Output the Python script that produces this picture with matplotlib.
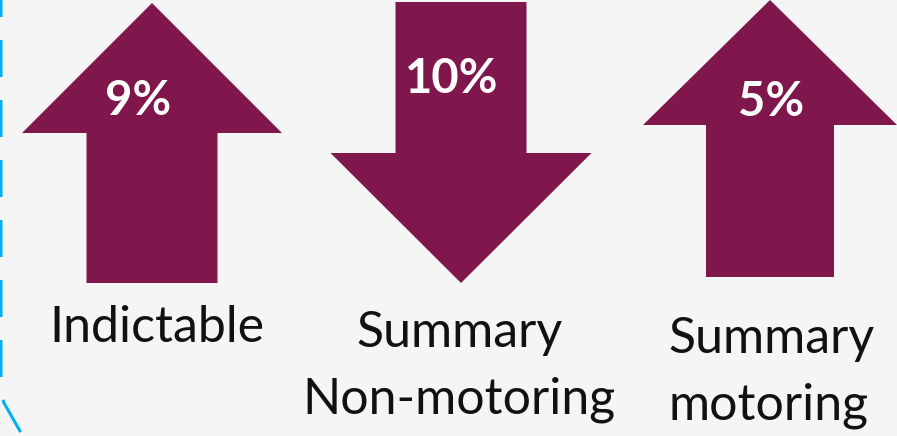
import matplotlib
matplotlib.use("Agg")
import matplotlib.pyplot as plt
from matplotlib.patches import Polygon

# ---- data ----
categories = ["Indictable", "Summary\nNon-motoring", "Summary\nmotoring"]
changes = [9, -10, 5]          # percent change; sign gives arrow direction
value_labels = ["9%", "10%", "5%"]

# ---- layout (pixel coordinates, y downwards) ----
W, H = 897, 436
bg = "#F5F5F5"
arrow_color = "#7F164C"
blue = "#00B0F0"

arrow_cx = [152, 461, 770]
arrow_top = [3, 2, 0]
arrow_len = [280, 281, 277]
head_half = [130, 130.5, 127]
shaft_half = [65.5, 65.5, 64]
head_len = [130, 130, 125]

pct_pos = [(138, 115), (452, 93), (771, 116)]
cat_pos = [(157, 342, "center"), (459, 347, "center"), (668, 353, "left")]
line_gap = 66

plt.rcParams["font.family"] = ["Lato", "DejaVu Sans"]

fig = plt.figure(figsize=(W / 100, H / 100), dpi=100, facecolor=bg)
ax = fig.add_axes([0, 0, 1, 1])
ax.set_xlim(0, W)
ax.set_ylim(H, 0)
ax.set_facecolor(bg)
ax.axis("off")

for i, ch in enumerate(changes):
    cx, top, L = arrow_cx[i], arrow_top[i], arrow_len[i]
    hh, sh, hl = head_half[i], shaft_half[i], head_len[i]
    bot = top + L
    if ch >= 0:
        pts = [(cx, top), (cx + hh, top + hl), (cx + sh, top + hl),
               (cx + sh, bot), (cx - sh, bot), (cx - sh, top + hl),
               (cx - hh, top + hl)]
    else:
        pts = [(cx - sh, top), (cx + sh, top), (cx + sh, bot - hl),
               (cx + hh, bot - hl), (cx, bot), (cx - hh, bot - hl),
               (cx - sh, bot - hl)]
    ax.add_patch(Polygon(pts, closed=True, facecolor=arrow_color,
                         edgecolor="none"))
    px, py = pct_pos[i]
    ax.text(px, py, value_labels[i], color="white", fontsize=34,
            fontweight="bold", ha="center", va="baseline")
    tx, ty, ha = cat_pos[i]
    for j, line in enumerate(categories[i].split("\n")):
        ax.text(tx, ty + j * line_gap, line, color="#111111", fontsize=36,
                ha=ha, va="baseline")

# decorative dashed blue border on the left
xs = [1, 1, 4, 24]
ys = [0, 392, 403, 438]
ln, = ax.plot(xs, ys, color=blue, lw=3 * 72 / 100, solid_capstyle="butt",
              dash_capstyle="butt")
ln.set_linestyle((20 / 3, (37 / 3, 23 / 3)))

fig.savefig("out.png", dpi=100, facecolor=bg)
